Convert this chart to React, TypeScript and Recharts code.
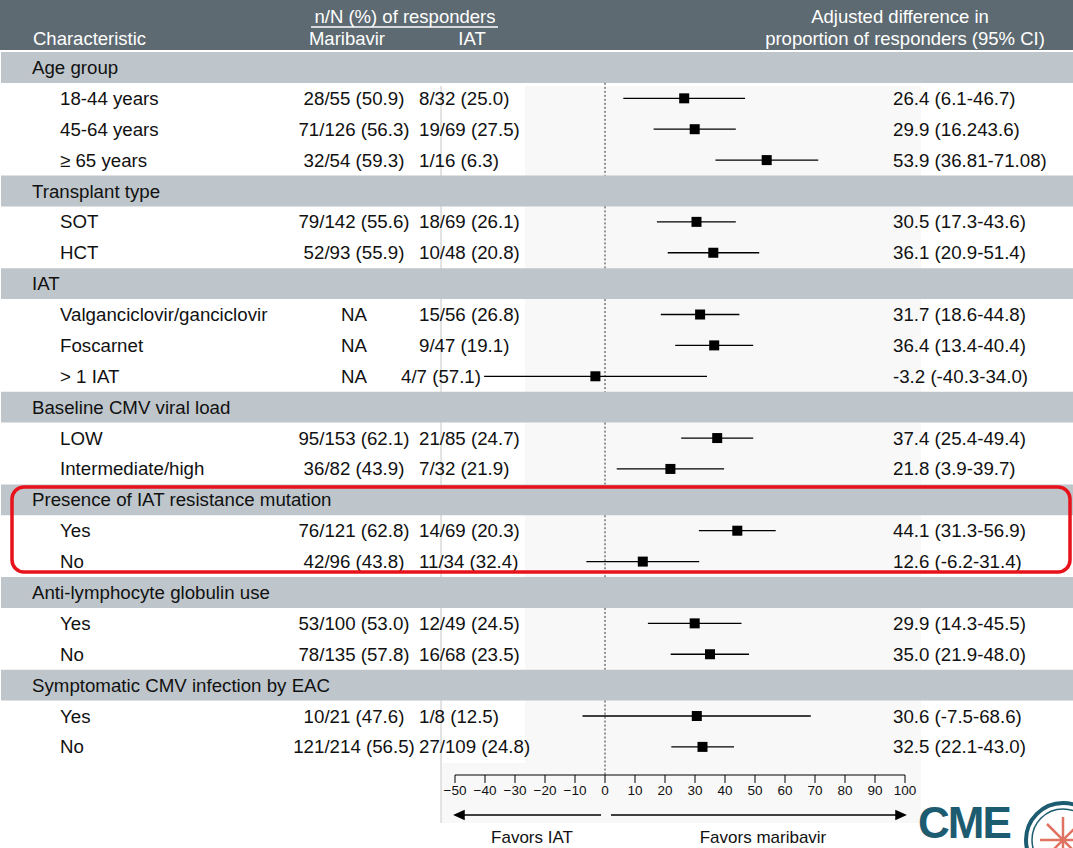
import { ScatterChart, Scatter, XAxis, YAxis, ErrorBar, ReferenceArea, ReferenceLine } from 'recharts';

const rowLabels = [
  'Age group', '18-44 years', '45-64 years', '≥ 65 years',
  'Transplant type', 'SOT', 'HCT',
  'IAT', 'Valganciclovir/ganciclovir', 'Foscarnet', '> 1 IAT',
  'Baseline CMV viral load', 'LOW', 'Intermediate/high',
  'Presence of IAT resistance mutation', 'Yes', 'No',
  'Anti-lymphocyte globulin use', 'Yes', 'No',
  'Symptomatic CMV infection by EAC', 'Yes', 'No',
];
const groupRows = [0, 4, 7, 11, 14, 17, 20];

const maribavirText = [
  '', '28/55 (50.9)', '71/126 (56.3)', '32/54 (59.3)',
  '', '79/142 (55.6)', '52/93 (55.9)',
  '', 'NA', 'NA', 'NA',
  '', '95/153 (62.1)', '36/82 (43.9)',
  '', '76/121 (62.8)', '42/96 (43.8)',
  '', '53/100 (53.0)', '78/135 (57.8)',
  '', '10/21 (47.6)', '121/214 (56.5)',
];
const iatText = [
  '', '8/32 (25.0)', '19/69 (27.5)', '1/16 (6.3)',
  '', '18/69 (26.1)', '10/48 (20.8)',
  '', '15/56 (26.8)', '9/47 (19.1)', '4/7 (57.1)',
  '', '21/85 (24.7)', '7/32 (21.9)',
  '', '14/69 (20.3)', '11/34 (32.4)',
  '', '12/49 (24.5)', '16/68 (23.5)',
  '', '1/8 (12.5)', '27/109 (24.8)',
];
const ciText = [
  '', '26.4 (6.1-46.7)', '29.9 (16.243.6)', '53.9 (36.81-71.08)',
  '', '30.5 (17.3-43.6)', '36.1 (20.9-51.4)',
  '', '31.7 (18.6-44.8)', '36.4 (13.4-40.4)', '-3.2 (-40.3-34.0)',
  '', '37.4 (25.4-49.4)', '21.8 (3.9-39.7)',
  '', '44.1 (31.3-56.9)', '12.6 (-6.2-31.4)',
  '', '29.9 (14.3-45.5)', '35.0 (21.9-48.0)',
  '', '30.6 (-7.5-68.6)', '32.5 (22.1-43.0)',
];
// drawn marks
const estimate = [null, 26.4, 29.9, 53.9, null, 30.5, 36.1, null, 31.7, 36.4, -3.2, null, 37.4, 21.8, null, 44.1, 12.6, null, 29.9, 35.0, null, 30.6, 32.5];
const lower = [null, 6.1, 16.2, 36.81, null, 17.3, 20.9, null, 18.6, 23.4, -40.3, null, 25.4, 3.9, null, 31.3, -6.2, null, 14.3, 21.9, null, -7.5, 22.1];
const upper = [null, 46.7, 43.6, 71.08, null, 43.6, 51.4, null, 44.8, 49.4, 34.0, null, 49.4, 39.7, null, 56.9, 31.4, null, 45.5, 48.0, null, 68.6, 43.0];

const axisTicks = [-50, -40, -30, -20, -10, 0, 10, 20, 30, 40, 50, 60, 70, 80, 90, 100];

const W = 1073;
const H = 848;
const X_MIN = -(605 - 1) / 3;
const X_MAX = (W - 605) / 3;
const Y_MAX = 22.91;
const FONT = '"Liberation Sans", Arial, sans-serif';

// the "> 1 IAT" cell sits a little further left so it clears its CI line
const iatNudge: Record<number, number> = { 10: -18 };

const points = estimate
  .map((e, i) => (e == null ? null : { x: e, y: i, err: [e - (lower[i] as number), (upper[i] as number) - e] }))
  .filter(Boolean);

const zeroSegments = groupRows.map((g, k) => [g + 0.5, k < groupRows.length - 1 ? groupRows[k + 1] - 0.5 : Y_MAX]);

function RowTick(props: any) {
  const i = props.payload.value;
  const y = props.y;
  const group = groupRows.includes(i);
  return (
    <g fontSize={18.7} fill="#111" fontFamily={FONT}>
      <text x={group ? 32 : 60} y={y} dy="0.35em">{rowLabels[i]}</text>
      {!group && (
        <>
          <text x={354} y={y} dy="0.35em" textAnchor="middle">{maribavirText[i]}</text>
          <text x={419 + (iatNudge[i] || 0)} y={y} dy="0.35em">{iatText[i]}</text>
          <text x={893} y={y} dy="0.35em">{ciText[i]}</text>
        </>
      )}
    </g>
  );
}

const Square = (props: any) => (
  <rect x={props.cx - 5} y={props.cy - 5} width={10} height={10} fill="#000" />
);

export default function App() {
  return (
    <div style={{ position: 'absolute', left: 0, top: 0, width: W, height: H, background: '#fff', fontFamily: FONT }}>
      <svg width={W} height={H} style={{ position: 'absolute', left: 0, top: 0 }}>
        <rect x={0} y={0} width={W} height={50} fill="#5e6a71" />
        <rect x={441} y={86} width={480} height={737} fill="#f8f8f8" />
        <rect x={442} y={86} width={83} height={677} fill="#fff" />
        <line x1={441} x2={441} y1={86} y2={823} stroke="#c9c9c9" />
      </svg>
      <ScatterChart width={W} height={H} margin={{ top: 52, right: 0, bottom: 43, left: 0 }} style={{ position: 'absolute', left: 0, top: 0 }}>
        {groupRows.map((g) => (
          <ReferenceArea key={g} y1={g - 0.5} y2={g + 0.5} x1={X_MIN} x2={X_MAX} fill="#bec6cb" fillOpacity={1} stroke="none" ifOverflow="visible" />
        ))}
        {zeroSegments.map(([a, b]) => (
          <ReferenceLine key={a} segment={[{ x: 0, y: a }, { x: 0, y: b }]} stroke="#333" strokeDasharray="2 2" />
        ))}
        <ReferenceLine segment={[{ x: -50, y: Y_MAX }, { x: 100, y: Y_MAX }]} stroke="#000" strokeWidth={1.2} ifOverflow="visible" />
        <XAxis
          type="number"
          dataKey="x"
          domain={[X_MIN, X_MAX]}
          allowDataOverflow
          ticks={axisTicks}
          interval={0}
          height={30}
          axisLine={false}
          tickLine={{ stroke: '#000' }}
          tickSize={8}
          tick={{ fontSize: 13.5, fill: '#111', fontFamily: FONT }}
          tickFormatter={(v: number) => (v < 0 ? `−${Math.abs(v)}` : `${v}`)}
        />
        <YAxis
          type="number"
          dataKey="y"
          domain={[-0.5, Y_MAX]}
          allowDataOverflow
          reversed
          width={1}
          ticks={rowLabels.map((_, i) => i)}
          interval={0}
          axisLine={false}
          tickLine={false}
          tick={<RowTick />}
        />
        <Scatter data={points as any[]} shape={Square} isAnimationActive={false}>
          <ErrorBar dataKey="err" direction="x" width={0} stroke="#000" strokeWidth={1.3} isAnimationActive={false} />
        </Scatter>
      </ScatterChart>
      <svg width={W} height={H} style={{ position: 'absolute', left: 0, top: 0, pointerEvents: 'none' }} fontFamily={FONT}>
        <g fill="#fff" fontSize={18.5}>
          <text x={33} y={45}>Characteristic</text>
          <text x={405} y={23} textAnchor="middle">n/N (%) of responders</text>
          <line x1={311} x2={498} y1={27} y2={27} stroke="#fff" strokeWidth={1.5} />
          <text x={347} y={45} textAnchor="middle">Maribavir</text>
          <text x={472} y={45} textAnchor="middle">IAT</text>
          <text x={900} y={23} textAnchor="middle">Adjusted difference in</text>
          <text x={905} y={45} textAnchor="middle">proportion of responders (95% CI)</text>
        </g>
        <rect x={12} y={487} width={1058} height={85} rx={12} fill="none" stroke="#e8121a" strokeWidth={3.5} />
        <g stroke="#000" strokeWidth={1.5} fill="#000">
          <line x1={601} x2={462} y1={815} y2={815} />
          <path d="M455,815 L464,811 L464,819 Z" />
          <line x1={611} x2={898} y1={815} y2={815} />
          <path d="M905,815 L896,811 L896,819 Z" />
        </g>
        <g fill="#111" fontSize={17}>
          <text x={532} y={843} textAnchor="middle">Favors IAT</text>
          <text x={763} y={843} textAnchor="middle">Favors maribavir</text>
        </g>
        <text x={918} y={838} fontSize={44} fontWeight="bold" fill="#1d5b70" letterSpacing={-2}>CME</text>
        <circle cx={1063} cy={840} r={37} fill="none" stroke="#1d5b70" strokeWidth={4} />
        <circle cx={1063} cy={840} r={31} fill="none" stroke="#1d5b70" strokeWidth={1.5} />
        <g stroke="#e07262" strokeWidth={2.5}>
          <line x1={1040} x2={1086} y1={840} y2={840} />
          <line x1={1063} x2={1063} y1={817} y2={863} />
          <line x1={1047} x2={1079} y1={824} y2={856} />
          <line x1={1047} x2={1079} y1={856} y2={824} />
        </g>
      </svg>
    </div>
  );
}
